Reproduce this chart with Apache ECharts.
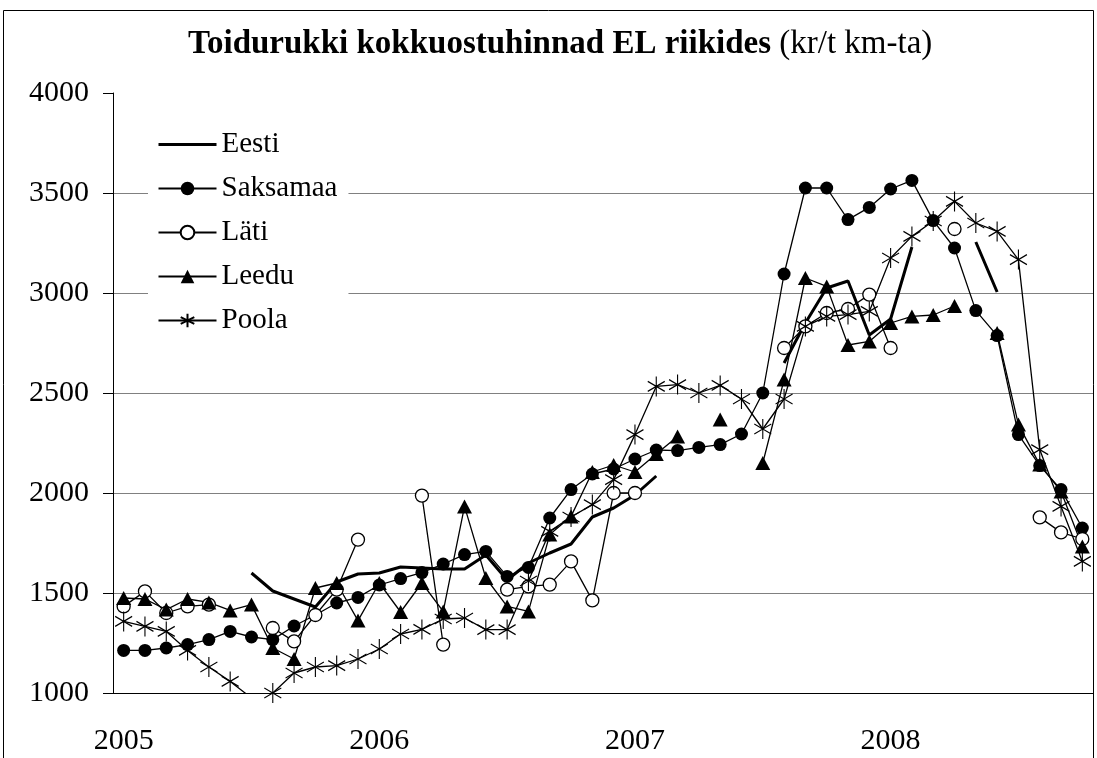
<!DOCTYPE html>
<html>
<head>
<meta charset="utf-8">
<script src="https://cdn.jsdelivr.net/npm/echarts@6/dist/echarts.min.js"></script>
<style>
  html, body { margin: 0; padding: 0; background: #fff; }
  #chart { width: 1097px; height: 758px; }
</style>
</head>
<body>
<div id="chart"></div>
<script>
// months Jan 2005 .. Oct 2008
var months = [
  "2005-01","2005-02","2005-03","2005-04","2005-05","2005-06","2005-07","2005-08","2005-09","2005-10","2005-11","2005-12",
  "2006-01","2006-02","2006-03","2006-04","2006-05","2006-06","2006-07","2006-08","2006-09","2006-10","2006-11","2006-12",
  "2007-01","2007-02","2007-03","2007-04","2007-05","2007-06","2007-07","2007-08","2007-09","2007-10","2007-11","2007-12",
  "2008-01","2008-02","2008-03","2008-04","2008-05","2008-06","2008-07","2008-08","2008-09","2008-10"
];

var eesti = [null,null,null,null,null,null,1600,1510,1470,1430,1555,1595,
  1600,1630,1625,1620,1620,1690,1565,1650,1700,1745,1880,1925,
  1990,2085,null,null,null,null,null,2650,2850,3025,3060,2790,
  2870,3230,null,null,3255,3005,null,null,null,null];

var saksamaa = [1213,1213,1225,1242,1267,1308,1280,1267,1335,1390,1450,1478,
  1540,1572,1602,1645,1692,1708,1583,1628,1875,2017,2095,2120,
  2170,2215,2212,2228,2242,2295,2500,3095,3525,3525,3367,3428,
  3520,3563,3362,3225,2912,2787,2292,2137,2017,1825];

var lati = [1433,1508,1400,1433,1442,null,null,1325,1258,1390,1517,1767,
  null,null,1987,1242,null,null,1517,1533,1542,1658,1463,2000,
  2000,null,null,null,null,null,null,2725,2833,2900,2920,2992,
  2725,null,null,3320,null,null,null,1878,1803,1770];

var leedu = [1475,1470,1417,1470,1453,1413,1442,1225,1170,1525,1550,1362,
  1550,1405,1550,1408,1933,1575,1433,1408,1792,1883,2105,2140,
  2105,2195,2283,null,2367,null,2150,2567,3075,3033,2740,2758,
  2850,2883,2890,2935,null,2800,2342,2142,2008,1733];

var poola = [1358,1333,1308,1213,1130,1058,975,1000,1100,1130,1137,1170,
  1220,1295,1318,1370,1375,1317,1317,1560,1808,1880,1942,2067,
  2292,2533,2542,2500,2538,2470,2320,2470,2833,2883,2892,2908,
  3175,3283,3360,3458,3350,3308,3167,2217,1933,1658];

var serif = "Liberation Serif, Times New Roman, serif";
var star = "path://M0,-10L0,10M-8.5,-5L8.5,5M-8.5,5L8.5,-5";

var chart = echarts.init(document.getElementById("chart"));

var option = {
  backgroundColor: "#ffffff",
  animation: false,
  textStyle: { fontFamily: serif, color: "#000" },
  title: {
    left: 183,
    top: 23,
    text: "{b|Toidurukki kokkuostuhinnad EL riikides}{n| (kr/t km-ta)}",
    textStyle: {
      fontWeight: "normal",
      rich: {
        b: { fontFamily: serif, fontSize: 33, fontWeight: "bold", color: "#000" },
        n: { fontFamily: serif, fontSize: 33, fontWeight: "normal", color: "#000" }
      }
    }
  },
  legend: {
    orient: "vertical",
    left: 148,
    top: 122,
    padding: [8, 11, 8, 9],
    backgroundColor: "#ffffff",
    itemWidth: 58,
    itemHeight: 17,
    itemGap: 15,
    data: [
      { name: "Eesti", itemStyle: { opacity: 0 }, lineStyle: { width: 3 } },
      "Saksamaa", "Läti", "Leedu", "Poola"
    ],
    textStyle: { fontFamily: serif, fontSize: 29, color: "#000" }
  },
  grid: {
    left: 113,
    right: 4,
    top: 93,
    bottom: 65
  },
  xAxis: {
    type: "category",
    data: months,
    boundaryGap: true,
    axisLine: { lineStyle: { color: "#000", width: 1 } },
    axisTick: { interval: 2, length: 10, lineStyle: { color: "#000" } },
    axisLabel: {
      interval: 11,
      margin: 33,
      fontFamily: serif,
      fontSize: 30,
      color: "#000",
      formatter: function (v) { return v.slice(0, 4); }
    },
    splitLine: { show: false }
  },
  yAxis: {
    type: "value",
    min: 1000,
    max: 4000,
    interval: 500,
    axisLine: { show: true, lineStyle: { color: "#000", width: 1 } },
    axisTick: { show: true, length: 10, lineStyle: { color: "#000" } },
    axisLabel: {
      margin: 24,
      fontFamily: serif,
      fontSize: 30,
      color: "#000",
      formatter: function (v) { return String(v); }
    },
    splitLine: { showMaxLine: false, lineStyle: { color: "#808080", width: 1 } }
  },
  series: [
    {
      name: "Eesti",
      type: "line",
      data: eesti,
      symbol: "none",
      lineStyle: { color: "#000", width: 3 },
      itemStyle: { color: "#000" }
    },
    {
      name: "Saksamaa",
      type: "line",
      data: saksamaa,
      symbol: "circle",
      symbolSize: 13,
      showAllSymbol: true,
      lineStyle: { color: "#000", width: 1.3 },
      itemStyle: { color: "#000" }
    },
    {
      name: "Läti",
      type: "line",
      data: lati,
      symbol: "circle",
      symbolSize: 13,
      showAllSymbol: true,
      lineStyle: { color: "#000", width: 1.3 },
      itemStyle: { color: "#fff", borderColor: "#000", borderWidth: 1.3 }
    },
    {
      name: "Leedu",
      type: "line",
      data: leedu,
      symbol: "triangle",
      symbolSize: [15, 14],
      showAllSymbol: true,
      lineStyle: { color: "#000", width: 1.3 },
      itemStyle: { color: "#000" }
    },
    {
      name: "Poola",
      type: "line",
      data: poola,
      symbol: star,
      symbolSize: [17, 20],
      showAllSymbol: true,
      lineStyle: { color: "#000", width: 1.3 },
      itemStyle: { color: "#000", borderColor: "#000", borderWidth: 1.2 }
    }
  ],
  graphic: [
    {
      type: "rect",
      shape: { x: 3.5, y: 10.5, width: 1090, height: 800 },
      style: { fill: null, stroke: "#000", lineWidth: 1 },
      silent: true,
      z: 100
    }
  ]
};

chart.setOption(option);
</script>
</body>
</html>
